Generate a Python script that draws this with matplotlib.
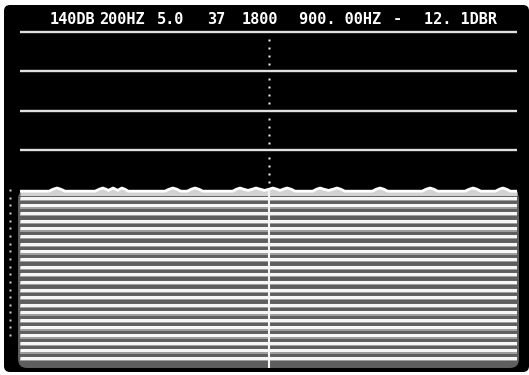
import matplotlib
matplotlib.use('Agg')
import matplotlib.pyplot as plt
from matplotlib.patches import FancyBboxPatch

# header readout of the analyser
header_fields = ['140DB', '200HZ', '5.0', '37', '1800', '900. 00HZ', '-', '12. 1DBR']
header_x = [72, 122, 171, 216, 260, 340, 397, 461]  # centre of each field, px

# graticule levels (dB) above the waterfall
grid_levels = [0, -10, -20, -30]

# newest trace on top of the waterfall (small humps along the floor)
top_freqs = [0, 105, 120, 134, 148, 163, 272, 287, 300, 312, 320, 328, 337, 346,
             354, 361, 369, 380, 392, 525, 540, 554, 568, 582, 606, 620, 634, 648,
             662, 770, 784, 797, 810, 826, 841, 855, 870, 886, 902, 916, 930, 942,
             953, 967, 982, 996, 1060, 1074, 1087, 1100, 1118, 1134, 1148, 1162,
             1176, 1276, 1290, 1304, 1318, 1332, 1456, 1471, 1485, 1499, 1513,
             1612, 1627, 1641, 1655, 1669, 1722, 1736, 1749, 1762, 1776, 1800]
top_levels = [-40.3, -40.3, -39.8, -39.5, -39.8, -40.3, -40.3, -39.8, -39.5, -39.8,
              -40.1, -39.8, -39.5, -39.8, -40.1, -39.8, -39.5, -39.8, -40.3, -40.3,
              -39.8, -39.5, -39.8, -40.3, -40.3, -39.8, -39.5, -39.8, -40.3, -40.3,
              -39.8, -39.5, -39.8, -40.1, -39.8, -39.5, -39.8, -40.1, -39.8, -39.5,
              -39.8, -40.1, -39.8, -39.5, -39.8, -40.3, -40.3, -39.8, -39.5, -39.8,
              -40.1, -39.8, -39.5, -39.8, -40.3, -40.3, -39.8, -39.5, -39.8, -40.3,
              -40.3, -39.8, -39.5, -39.8, -40.3, -40.3, -39.8, -39.5, -39.8, -40.3,
              -40.3, -39.8, -39.5, -39.8, -40.3, -40.3]

# older traces stacked below
trace_levels = [-42.0, -43.9, -45.8, -47.8, -49.7, -51.6, -53.6, -55.5, -57.4,
                -59.4, -61.3, -63.2, -65.2, -67.1, -69.0, -71.0, -72.9, -74.8,
                -76.8, -78.7, -80.6, -82.5]

cursor_freq = 900.0
span = (0, 1800)

W, H = 529, 375
fig = plt.figure(figsize=(W / 100, H / 100), dpi=100)
fig.patch.set_facecolor('white')

def fx(px):
    return px / W

def fy(py):
    return 1 - py / H

# black screen
screen = FancyBboxPatch((fx(4), fy(372)), fx(525), 367 / H,
                        boxstyle='round,pad=0,rounding_size=%f' % fx(6),
                        mutation_aspect=W / H, transform=fig.transFigure,
                        facecolor='black', edgecolor='none', zorder=-3)
fig.add_artist(screen)

# grey body of the waterfall
body = FancyBboxPatch((fx(18), fy(368)), fx(501), 178 / H,
                      boxstyle='round,pad=0,rounding_size=%f' % fx(9),
                      mutation_aspect=W / H, transform=fig.transFigure,
                      facecolor='#5e5e5e', edgecolor='none', zorder=-2)
fig.add_artist(body)

# plot area: 0 dB at y=32px, 3.95 px per dB
px_per_db = 3.95
y_top, y_bot = 0.5, -85.1
top_px = 32 - y_top * px_per_db
bot_px = 32 - y_bot * px_per_db
ax = fig.add_axes([fx(20), fy(bot_px), fx(497), (bot_px - top_px) / H])
ax.patch.set_visible(False)
ax.set_xlim(*span)
ax.set_ylim(y_bot, y_top)
ax.set_axis_off()

for lvl in grid_levels:
    ax.plot(span, [lvl, lvl], color='#e0e0e0', lw=1.7, solid_capstyle='butt')

# traces, oldest first
for lvl in trace_levels[::-1]:
    ax.fill_between(span, lvl, lvl - 0.85, color='#9c9c9c', lw=0)
    ax.plot(span, [lvl, lvl], color='#f6f6f6', lw=2.2, solid_capstyle='butt')

ax.fill_between(top_freqs, top_levels, -41.4, color='#d2d2d2', lw=0)
ax.plot(top_freqs, top_levels, color='white', lw=2.0)

# cursor: solid through the waterfall, dotted above
ax.plot([cursor_freq, cursor_freq], [-40, y_bot], color='#f4f4f4', lw=1.5)
dot_levels = [g - d for g in grid_levels for d in (2, 4, 6, 8)]
ax.plot([cursor_freq] * len(dot_levels), dot_levels, ls='none', marker='s',
        ms=1.6, color='#f0f0f0', mec='none')

# trace index marks at the left edge
mark_levels = [-40.0] + trace_levels[:19]
ax.plot([-36] * len(mark_levels), mark_levels, ls='none', marker='s', ms=1.5,
        color='#d0d0d0', mec='none', clip_on=False)

for txt, x in zip(header_fields, header_x):
    fig.text(fx(x), fy(19), txt, color='white', ha='center', va='center',
             family='DejaVu Sans Mono', weight='bold', fontsize=11)

fig.savefig('out.png', dpi=100, facecolor=fig.get_facecolor())
